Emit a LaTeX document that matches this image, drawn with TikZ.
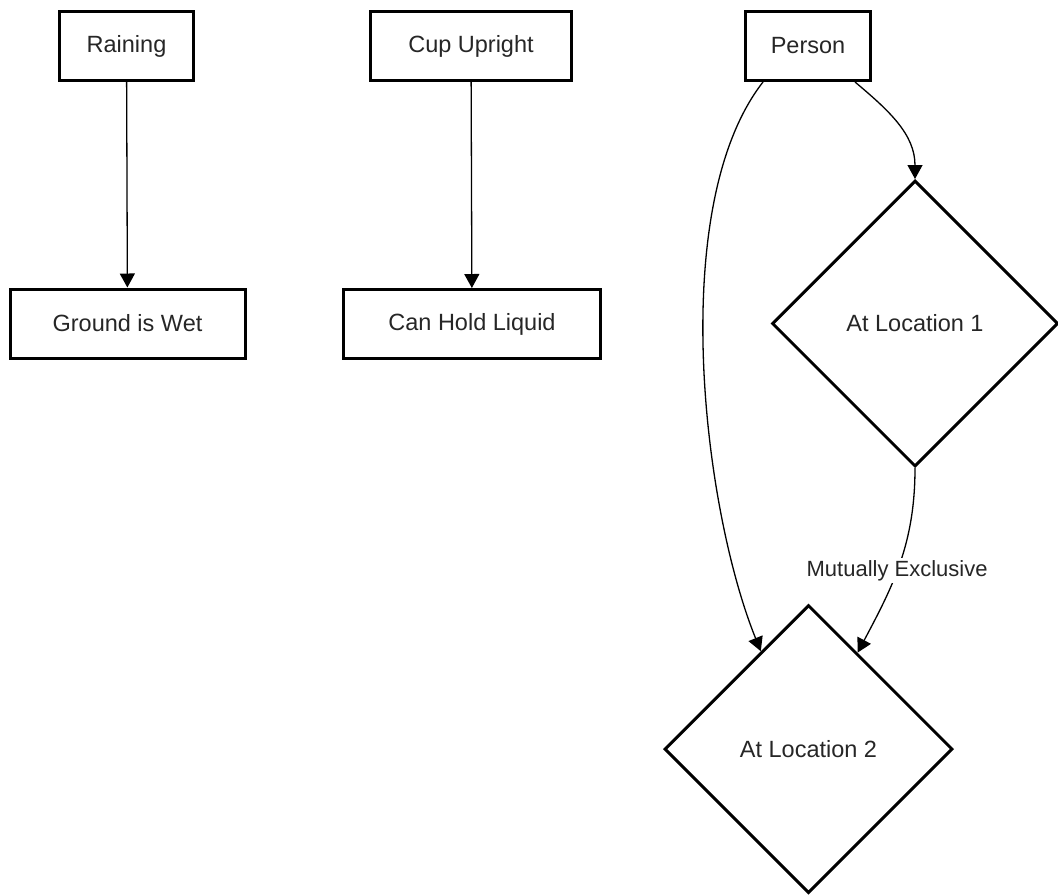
\documentclass[tikz,border=0pt]{standalone}
\usepackage{fontspec}
\setmainfont{Liberation Sans}
\usetikzlibrary{arrows.meta, shapes.geometric}

\begin{document}
\begin{tikzpicture}[
            x=1pt,
            y=1pt,
            >={Triangle[length=14pt, width=15pt]},
            font=\fontsize{23.5}{28}\selectfont,
            block/.style={
                draw,
                rectangle,
                minimum height=69pt,
                inner sep=0pt,
                align=center,
                line width=3pt,
                text=black!85
            },
            decision/.style={
                draw,
                diamond,
                minimum width=286pt,
                minimum height=286pt,
                inner sep=0pt,
                align=center,
                line width=3pt,
                text=black!85
            },
            link/.style={->, line width=1.3pt}
        ]
            \useasboundingbox (0,0) rectangle (1058,-895);

            % Chuva e chao molhado
            \node [block, minimum width=134pt] (raining) at (126.5,-46) {Raining};
            \node [block, minimum width=235pt] (ground) at (127.5,-323.5) {Ground is Wet};
            \draw [link] (raining) -- (ground);

            % Copo em pe
            \node [block, minimum width=201pt] (cup) at (471,-46) {Cup Upright};
            \node [block, minimum width=257pt] (liquid) at (472,-324) {Can Hold Liquid};
            \draw [link] (cup) -- (liquid);

            % Pessoa e as duas posicoes
            \node [block, minimum width=125pt] (person) at (808,-46) {Person};
            \node [decision] (loc1) at (915,-323.5) {At Location 1};
            \node [decision, minimum width=288pt, minimum height=288pt] (loc2) at (808.5,-749) {At Location 2};

            % Ligacoes curvas
            \draw [link] ([xshift=19pt]person.south west)
                to [out=232, in=112, looseness=0.7] (loc2.116);
            \draw [link] ([xshift=-17pt]person.south east)
                to [out=-40, in=90] (loc1.north);
            \draw [link] (loc1.south)
                to [out=-90, in=62]
                node [pos=0.54, fill=white, inner sep=2pt, text=black!85,
                      font=\fontsize{22}{26}\selectfont] {Mutually Exclusive}
                (loc2.63);
        \end{tikzpicture}
\end{document}
